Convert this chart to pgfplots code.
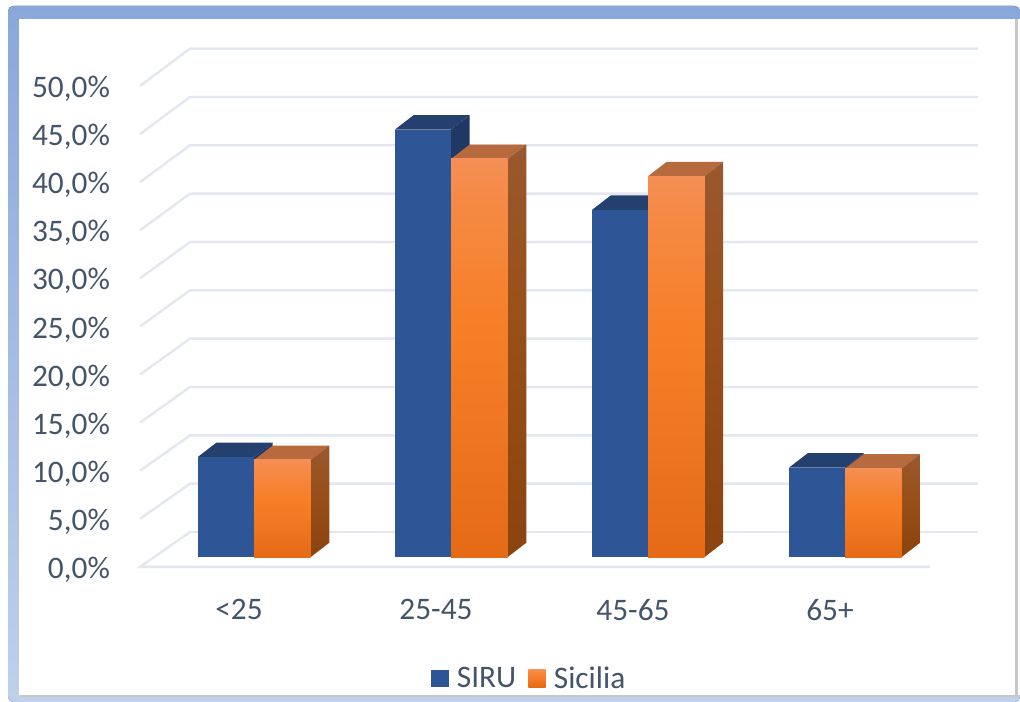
\documentclass[border=0pt]{standalone}
\usepackage{fontspec}
\setmainfont{Carlito}
\usepackage{pgfplots}
\pgfplotsset{compat=1.18}
\definecolor{txt}{HTML}{44546A}
\definecolor{gridc}{HTML}{E3E7EF}
\definecolor{bluefront}{HTML}{2E5596}
\definecolor{bluetop}{HTML}{23406F}
\definecolor{blueside}{HTML}{1F3864}
\definecolor{orangetop}{HTML}{B66A3E}
\definecolor{frameA}{HTML}{8AA7DC}
\definecolor{frameB}{HTML}{BFD0EA}
\definecolor{oa}{HTML}{E56A16}
\definecolor{ob}{HTML}{EE7620}
\definecolor{oc}{HTML}{F67F28}
\definecolor{od}{HTML}{F58A45}
\definecolor{oe}{HTML}{F58F55}
\definecolor{sa}{HTML}{8B430F}
\definecolor{sb}{HTML}{99501A}
\definecolor{sc}{HTML}{99582F}
\pgfdeclareverticalshading{orangefront}{100bp}{
 color(0bp)=(oa);
 color(25bp)=(oa);
 color(40bp)=(ob);
 color(55bp)=(oc);
 color(70bp)=(od);
 color(75bp)=(oe);
 color(100bp)=(oe)}
\pgfdeclareverticalshading{orangeside}{100bp}{
 color(0bp)=(sa);
 color(25bp)=(sa);
 color(55bp)=(sb);
 color(75bp)=(sc);
 color(100bp)=(sc)}
% one 3D bar: left x, width, value, front style, top style, side style
\newcommand\tdbar[6]{%
 \pgfmathsetmacro\xa{#1}\pgfmathsetmacro\xb{#1+#2}\pgfmathsetmacro\xc{#1+#2+18.7}%
 \pgfmathsetmacro\xd{#1+18.7}\pgfmathsetmacro\xm{#1+#2/2}%
 \pgfmathsetmacro\yt{#3+1.5}\pgfmathsetmacro\yd{1.5}%
 \edef\temp{\noexpand\addplot[#5,draw=none,forget plot] coordinates {(\xa,#3)(\xd,\yt)(\xc,\yt)(\xb,#3)} --cycle;
 \noexpand\addplot[#6,draw=none,forget plot] coordinates {(\xb,0)(\xc,\yd)(\xc,\yt)(\xb,#3)} --cycle;
 \noexpand\addplot[ybar,bar width=#2,bar shift=0pt,draw=none,forget plot,#4] coordinates {(\xm,#3)};}\temp}
\newcommand\gridl[2]{\addplot[gridc,line width=1.8pt,forget plot] coordinates {(140,#1)(190,#2)(978,#2)};}
\begin{document}
\begin{tikzpicture}[x=0.75pt,y=0.75pt]
\path[use as bounding box] (0,0) rectangle (1020,702);
\fill[white] (0,0) rectangle (1020,702);
\fill[rounded corners=4pt,top color=frameA,bottom color=frameB] (8,0) rectangle (1020,696);
\fill[black!22] (21,5) rectangle (1018,9);
\fill[black!22] (1014,7) rectangle (1018,683);
\fill[white] (19,7) rectangle (1015,683);
\fill[white] (1018,7) rectangle (1020,683);
\begin{axis}[
 at={(140,140.5)},anchor=south west,scale only axis,
 width=628.5pt,height=388.9pt,
 xmin=140,xmax=978,ymin=-1.02,ymax=52.9,clip=false,
 axis line style={draw=none},major tick length=0pt,
 xtick={239,436,633,830},xticklabels={{<25},{25-45},{45-65},{65+}},
 ytick={-1.02,3.98,8.98,13.98,18.98,23.98,28.98,33.98,38.98,43.98,48.98},
 yticklabels={{0,0\%},{5,0\%},{10,0\%},{15,0\%},{20,0\%},{25,0\%},{30,0\%},{35,0\%},{40,0\%},{45,0\%},{50,0\%}},
 ticklabel style={text=txt,font=\fontsize{23.5}{27}\selectfont},
 yticklabel style={anchor=east,xshift=-19pt,yshift=-2.2pt},
 xticklabel style={anchor=center,yshift=-32pt},
 legend columns=2,
 legend style={at={(0.465,-0.215)},anchor=center,draw=none,fill=none,text=txt,font=\fontsize{23.5}{26}\selectfont,
   /tikz/every even column/.append style={column sep=7pt},inner sep=0pt},
]
\addlegendimage{legend image code/.code={\fill[bluefront,draw=none] (0pt,-6.5pt) rectangle (13pt,6.5pt);\path (17pt,0pt);}}
\addlegendentry{SIRU}
\addlegendimage{legend image code/.code={\path[shade,shading=orangefront,draw=none] (0pt,-6.5pt) rectangle (13pt,6.5pt);\path (17pt,0pt);}}
\addlegendentry{Sicilia}
\addplot[gridc,line width=1.8pt,forget plot] coordinates {(190,2.60)(140,-1.02)(930,-1.02)};
\addplot[gridc,line width=1.8pt,forget plot] coordinates {(190,2.60)(978,2.60)};
\gridl{3.98}{7.63}
\gridl{8.98}{12.65}
\gridl{13.98}{17.68}
\gridl{18.98}{22.71}
\gridl{23.98}{27.74}
\gridl{28.98}{32.76}
\gridl{33.98}{37.79}
\gridl{38.98}{42.82}
\gridl{43.98}{47.84}
\gridl{48.98}{52.87}
\tdbar{197.7}{56.3}{10.4}{fill=bluefront}{fill=bluetop}{fill=blueside}
\tdbar{254}{56.7}{10.1}{shade,shading=orangefront}{fill=orangetop}{shade,shading=orangeside}
\tdbar{395}{56}{44.46}{fill=bluefront}{fill=bluetop}{fill=blueside}
\tdbar{451}{56.7}{41.4}{shade,shading=orangefront}{fill=orangetop}{shade,shading=orangeside}
\tdbar{592}{56}{36.1}{fill=bluefront}{fill=bluetop}{fill=blueside}
\tdbar{648}{56.5}{39.6}{shade,shading=orangefront}{fill=orangetop}{shade,shading=orangeside}
\tdbar{789}{56}{9.3}{fill=bluefront}{fill=bluetop}{fill=blueside}
\tdbar{845}{56.5}{9.2}{shade,shading=orangefront}{fill=orangetop}{shade,shading=orangeside}
\end{axis}
\end{tikzpicture}
\end{document}
